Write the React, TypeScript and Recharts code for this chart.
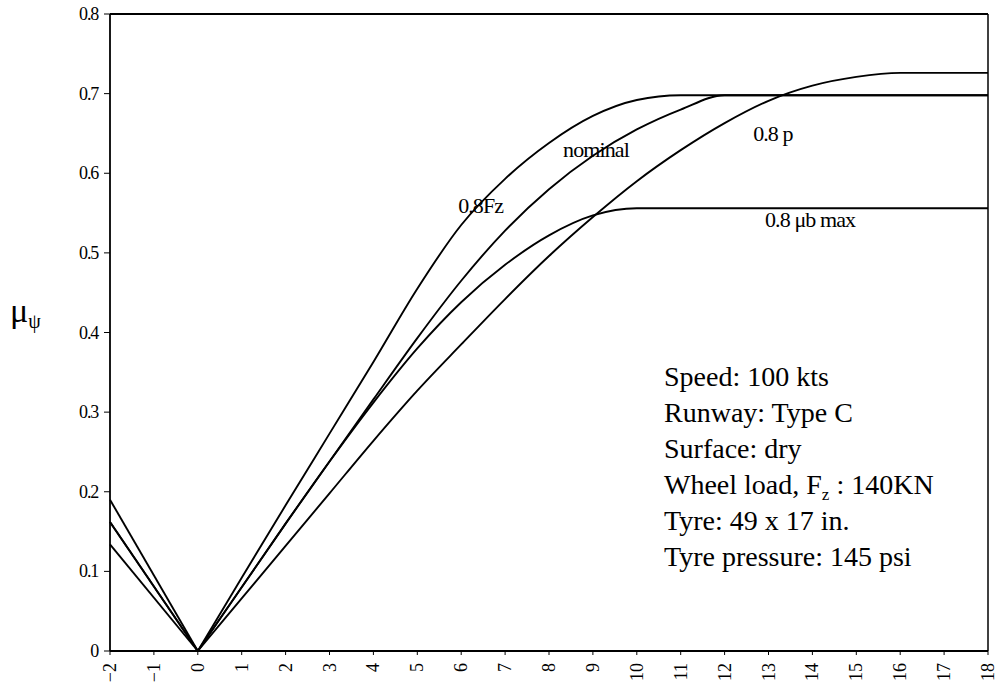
import { LineChart, Line, XAxis, YAxis, ReferenceLine, ReferenceDot } from "recharts";

// slip angle (deg) and side-friction coefficient for each case
const slipAngles = [-2, 0, 1, 2, 3, 4, 5, 6, 7, 8, 9, 10, 11, 12, 13, 14, 15, 16, 17, 18];
const loadCase = [0.19, 0, 0.092, 0.183, 0.273, 0.363, 0.455, 0.535, 0.593, 0.638, 0.672, 0.692, 0.698, 0.698, 0.698, 0.698, 0.698, 0.698, 0.698, 0.698];
const nominalCase = [0.162, 0, 0.08, 0.16, 0.238, 0.316, 0.393, 0.465, 0.528, 0.58, 0.622, 0.655, 0.68, 0.698, 0.698, 0.698, 0.698, 0.698, 0.698, 0.698];
const brakingCase = [0.162, 0, 0.08, 0.16, 0.238, 0.312, 0.38, 0.438, 0.485, 0.522, 0.547, 0.556, 0.556, 0.556, 0.556, 0.556, 0.556, 0.556, 0.556, 0.556];
const pressureCase = [0.134, 0, 0.066, 0.132, 0.198, 0.264, 0.327, 0.385, 0.442, 0.496, 0.545, 0.59, 0.629, 0.663, 0.691, 0.71, 0.721, 0.726, 0.726, 0.726];

const xTicks = [-2, -1, 0, 1, 2, 3, 4, 5, 6, 7, 8, 9, 10, 11, 12, 13, 14, 15, 16, 17, 18];
const yTicks = [0, 0.1, 0.2, 0.3, 0.4, 0.5, 0.6, 0.7, 0.8];

const conditions = [
  "Speed: 100 kts",
  "Runway: Type C",
  "Surface: dry",
  "Wheel load, F",
  "Tyre: 49 x 17 in.",
  "Tyre pressure: 145 psi",
];

const rows = slipAngles.map((x, i) => ({
  x,
  fz: loadCase[i],
  nominal: nominalCase[i],
  mub: brakingCase[i],
  p: pressureCase[i],
}));
// the negative-slip branch is straight, the positive branch is smoothed
const leftRows = rows.filter((r) => r.x <= 0);
const rightRows = rows.filter((r) => r.x >= 0);

const serif = "Liberation Serif, Times New Roman, serif";
const keys = ["fz", "nominal", "mub", "p"];

function XTick({ x, y, payload }: any) {
  const v = payload.value as number;
  const label = v < 0 ? `\u2212${-v}` : String(v);
  return (
    <text
      x={x}
      y={y}
      transform={`rotate(-90 ${x} ${y})`}
      textAnchor="end"
      dominantBaseline="central"
      style={{ fontFamily: serif, fontSize: 18 }}
      fill="#000"
    >
      {label}
    </text>
  );
}

function YTick({ x, y, payload }: any) {
  return (
    <text x={x} y={y} textAnchor="end" dominantBaseline="central" style={{ fontFamily: serif, fontSize: 18, letterSpacing: -1.2 }} fill="#000">
      {String(payload.value)}
    </text>
  );
}

function curveLabel(text: string) {
  return (props: any) => {
    const { viewBox } = props;
    return (
      <text x={viewBox.x} y={viewBox.y} style={{ fontFamily: serif, fontSize: 22, letterSpacing: -0.9 }} fill="#000">
        {text}
      </text>
    );
  };
}

export default function App() {
  return (
    <div style={{ position: "absolute", left: 0, top: 0, width: 998, height: 694, background: "#fff" }}>
      <LineChart width={998} height={694} margin={{ top: 14, right: 10, bottom: 0, left: 0 }}>
        <XAxis
          dataKey="x"
          type="number"
          domain={[-2, 18]}
          ticks={xTicks}
          interval={0}
          height={43}
          tick={<XTick />}
          tickSize={4}
          tickMargin={8}
          axisLine={{ stroke: "#000", strokeWidth: 1.8 }}
          tickLine={{ stroke: "#000" }}
        />
        <YAxis
          type="number"
          domain={[0, 0.8]}
          ticks={yTicks}
          width={110}
          tickSize={6}
          tickMargin={6}
          tick={<YTick />}
          axisLine={{ stroke: "#000", strokeWidth: 1.8 }}
          tickLine={{ stroke: "#000" }}
        />
        <ReferenceLine y={0.8} stroke="#000" strokeWidth={1.8} />
        <ReferenceLine x={18} stroke="#000" strokeWidth={1.5} />
        {keys.map((k) => (
          <Line key={`l-${k}`} data={leftRows} dataKey={k} type="linear" stroke="#000" strokeWidth={1.9} dot={false} isAnimationActive={false} />
        ))}
        {keys.map((k) => (
          <Line key={`r-${k}`} data={rightRows} dataKey={k} type="monotone" stroke="#000" strokeWidth={1.9} dot={false} isAnimationActive={false} />
        ))}
        <ReferenceDot x={5.93} y={0.55} r={0} stroke="none" label={curveLabel("0.8Fz")} />
        <ReferenceDot x={8.32} y={0.62} r={0} stroke="none" label={curveLabel("nominal")} />
        <ReferenceDot x={12.65} y={0.64} r={0} stroke="none" label={curveLabel("0.8 p")} />
        <ReferenceDot x={12.92} y={0.533} r={0} stroke="none" label={curveLabel("0.8 \u03bcb max")} />
      </LineChart>

      <svg width={998} height={694} style={{ position: "absolute", left: 0, top: 0, pointerEvents: "none" }}>
        <text x={10} y={322} style={{ fontFamily: serif, fontSize: 34 }} fill="#000">
          μ
          <tspan dy={6} style={{ fontSize: 20 }}>ψ</tspan>
        </text>
        {conditions.map((line, i) => (
          <text key={line} x={664} y={386 + i * 36} style={{ fontFamily: serif, fontSize: 28 }} fill="#000">
            {line}
            {i === 3 && (
              <>
                <tspan dy={6} style={{ fontSize: 17 }}>z</tspan>
                <tspan dy={-6}> : 140KN</tspan>
              </>
            )}
          </text>
        ))}
      </svg>
    </div>
  );
}
